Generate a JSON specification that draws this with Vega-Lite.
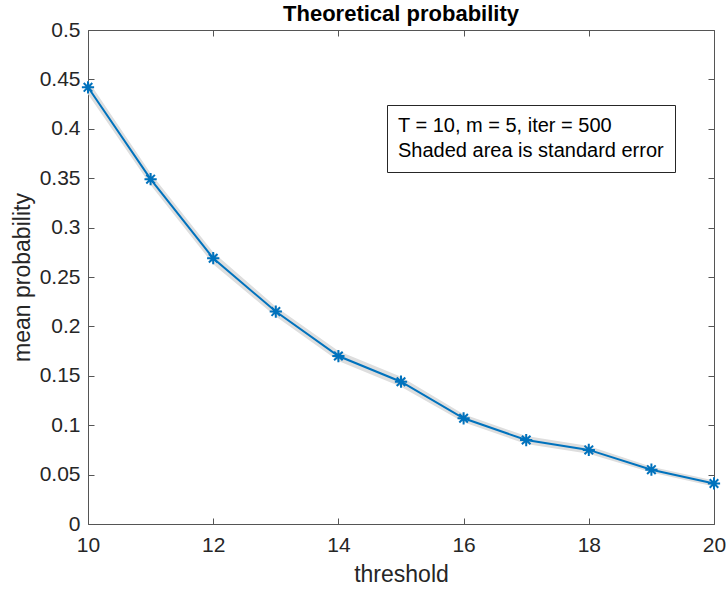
{
  "$schema": "https://vega.github.io/schema/vega-lite/v6.json",
  "width": 626,
  "height": 494,
  "autosize": {"type": "none"},
  "padding": {"left": 88, "top": 30, "right": 13, "bottom": 66},
  "background": "white",
  "title": {"text": "Theoretical probability", "fontSize": 22, "fontWeight": "bold", "font": "Liberation Sans", "color": "#000000", "offset": -7, "anchor": "middle"},
  "config": {
    "view": {"stroke": null},
    "font": "Liberation Sans",
    "axis": {
      "domainColor": "#555555",
      "domainWidth": 1,
      "tickColor": "#555555",
      "tickSize": -6,
      "tickWidth": 1,
      "grid": false,
      "labelColor": "#262626",
      "labelFontSize": 21,
      "labelFont": "Liberation Sans",
      "titleColor": "#262626",
      "titleFontSize": 23,
      "titleFont": "Liberation Sans",
      "titleFontWeight": "normal",
      "labelFlush": false,
      "format": "~g"
    }
  },
  "datasets": {
    "main": [
      {"threshold": 10, "prob": 0.442, "lo": 0.435, "hi": 0.449},
      {"threshold": 11, "prob": 0.349, "lo": 0.343, "hi": 0.355},
      {"threshold": 12, "prob": 0.269, "lo": 0.263, "hi": 0.275},
      {"threshold": 13, "prob": 0.215, "lo": 0.210, "hi": 0.220},
      {"threshold": 14, "prob": 0.170, "lo": 0.165, "hi": 0.175},
      {"threshold": 15, "prob": 0.144, "lo": 0.139, "hi": 0.149},
      {"threshold": 16, "prob": 0.107, "lo": 0.103, "hi": 0.111},
      {"threshold": 17, "prob": 0.085, "lo": 0.081, "hi": 0.089},
      {"threshold": 18, "prob": 0.075, "lo": 0.071, "hi": 0.079},
      {"threshold": 19, "prob": 0.055, "lo": 0.052, "hi": 0.058},
      {"threshold": 20, "prob": 0.041, "lo": 0.038, "hi": 0.044}
    ],
    "notes": [
      {"note": "T = 10, m = 5, iter = 500"},
      {"note": "Shaded area is standard error"}
    ]
  },
  "resolve": {"axis": {"x": "independent", "y": "independent"}},
  "layer": [
    {
      "data": {"name": "main"},
      "mark": {"type": "area", "color": "#dedede", "opacity": 1},
      "encoding": {
        "x": {"field": "threshold", "type": "quantitative", "scale": {"domain": [10, 20], "nice": false, "zero": false},
              "axis": {"orient": "bottom", "values": [10, 12, 14, 16, 18, 20], "title": "threshold", "labelPadding": 16, "titlePadding": 8}},
        "y": {"field": "lo", "type": "quantitative", "scale": {"domain": [0, 0.5], "nice": false},
              "axis": {"orient": "left", "values": [0, 0.05, 0.1, 0.15, 0.2, 0.25, 0.3, 0.35, 0.4, 0.45, 0.5], "title": "mean probability", "labelPadding": 14, "titlePadding": 5}},
        "y2": {"field": "hi"}
      }
    },
    {
      "data": {"name": "main"},
      "mark": {"type": "line", "color": "#0072BD", "strokeWidth": 2},
      "encoding": {
        "x": {"field": "threshold", "type": "quantitative", "axis": {"orient": "top", "values": [10, 12, 14, 16, 18, 20], "labels": false, "title": null}},
        "y": {"field": "prob", "type": "quantitative", "axis": {"orient": "right", "values": [0, 0.05, 0.1, 0.15, 0.2, 0.25, 0.3, 0.35, 0.4, 0.45, 0.5], "labels": false, "title": null}}
      }
    },
    {
      "data": {"name": "main"},
      "mark": {"type": "point", "shape": "M-1,0L1,0M0,-1L0,1M-0.7,-0.7L0.7,0.7M-0.7,0.7L0.7,-0.7", "filled": false, "color": "#0072BD", "strokeWidth": 2, "size": 150, "opacity": 1},
      "encoding": {
        "x": {"field": "threshold", "type": "quantitative", "axis": null},
        "y": {"field": "prob", "type": "quantitative", "axis": null}
      }
    },
    {
      "data": {"name": "notes"},
      "mark": {"type": "point", "opacity": 0},
      "encoding": {
        "color": {"field": "note", "type": "nominal", "sort": null, "scale": {"range": ["#000000", "#000000"]},
          "legend": {"orient": "none", "legendX": 299, "legendY": 75, "title": null, "symbolSize": 0, "symbolStrokeWidth": 0, "symbolOpacity": 0, "labelOffset": -20,
            "labelFontSize": 20, "labelFont": "Liberation Sans", "labelColor": "#000000", "strokeColor": "#262626", "fillColor": "#ffffff", "padding": 11, "rowPadding": 5, "labelLimit": 400}}
      }
    }
  ]
}
